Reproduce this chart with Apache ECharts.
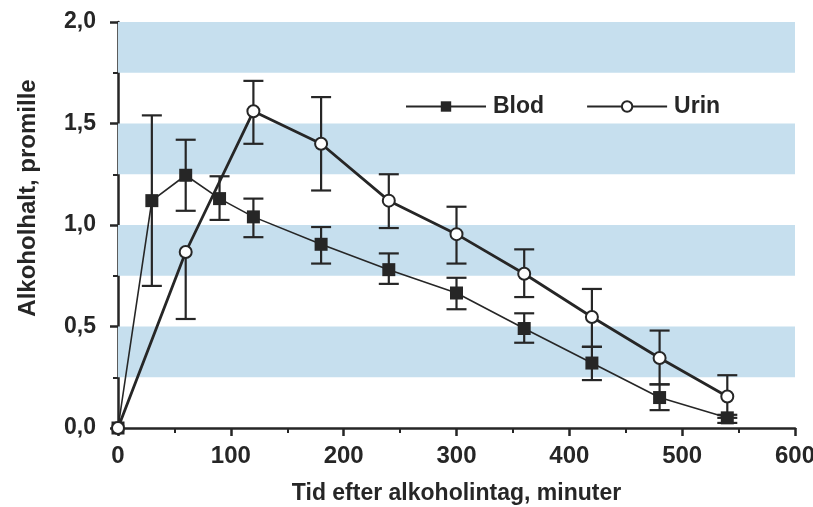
<!DOCTYPE html>
<html>
<head>
<meta charset="utf-8">
<script src="https://cdn.jsdelivr.net/npm/echarts@6/dist/echarts.min.js"></script>
<style>
	html, body { margin: 0; padding: 0; background: #fff; }
	#chart { width: 813px; height: 507px; }
</style>
</head>
<body>
<div id="chart"></div>
<script>
	// tider (minuter)
	var blodTid = [0, 30, 60, 90, 120, 180, 240, 300, 360, 420, 480, 540];
	var blodVarde = [0, 1.12, 1.245, 1.13, 1.04, 0.905, 0.78, 0.665, 0.49, 0.32, 0.15, 0.05];
	var blodLag = [0, 0.70, 1.07, 1.025, 0.94, 0.81, 0.71, 0.585, 0.42, 0.236, 0.088, 0.025];
	var blodHog = [0, 1.54, 1.42, 1.24, 1.13, 0.99, 0.86, 0.74, 0.565, 0.40, 0.215, 0.065];

	var urinTid = [0, 60, 120, 180, 240, 300, 360, 420, 480, 540];
	var urinVarde = [0, 0.867, 1.56, 1.40, 1.12, 0.955, 0.76, 0.547, 0.345, 0.155];
	var urinLag = [0, 0.537, 1.40, 1.17, 0.985, 0.81, 0.645, 0.40, 0.215, 0.05];
	var urinHog = [0, 0.867, 1.71, 1.63, 1.25, 1.09, 0.88, 0.685, 0.48, 0.26];

	// ljusblå band i bakgrunden
	var band = [[0.25, 0.5], [0.75, 1.0], [1.25, 1.5], [1.75, 2.0]];

	var xTicks = [0, 600, 100];
	var yTicks = [0, 2, 0.5];

	var farg = '#262626';
	var font = 'Liberation Sans, Arial, sans-serif';

	function par(tid, v) {
		var ut = [];
		for (var i = 0; i < tid.length; i++) ut.push([tid[i], v[i]]);
		return ut;
	}
	function felData(tid, v, lag, hog) {
		var ut = [];
		for (var i = 0; i < tid.length; i++) {
			if (lag[i] === v[i] && hog[i] === v[i]) continue;
			ut.push([tid[i], v[i], lag[i], hog[i]]);
		}
		return ut;
	}
	function felStaplar(params, api) {
		var x = api.value(0), m = api.value(1), lo = api.value(2), hi = api.value(3);
		var pLo = api.coord([x, lo]), pHi = api.coord([x, hi]);
		var w = 10;
		var st = { stroke: farg, lineWidth: 2.2 };
		var barn = [{ type: 'line', shape: { x1: pLo[0], y1: pLo[1], x2: pHi[0], y2: pHi[1] }, style: st }];
		if (lo !== m) barn.push({ type: 'line', shape: { x1: pLo[0] - w, y1: pLo[1], x2: pLo[0] + w, y2: pLo[1] }, style: st });
		if (hi !== m) barn.push({ type: 'line', shape: { x1: pHi[0] - w, y1: pHi[1], x2: pHi[0] + w, y2: pHi[1] }, style: st });
		return { type: 'group', children: barn };
	}

	var bandData = band.map(function(b) {
		return [{ yAxis: b[0], xAxis: xTicks[0] }, { yAxis: b[1], xAxis: xTicks[1] }];
	});

	var myChart = echarts.init(document.getElementById('chart'), null, { renderer: 'canvas' });
	var option = {
		animation: false,
		backgroundColor: '#fff',
		textStyle: { fontFamily: font },
		grid: { left: 118, right: 18, top: 22, bottom: 79, containLabel: false, outerBoundsMode: 'none' },
		legend: {
			left: 400,
			top: 90,
			itemWidth: 80,
			itemHeight: 13,
			itemGap: 42,
			textStyle: { fontSize: 23, fontWeight: 'bold', color: farg, fontFamily: font, padding: [0, 0, 0, 2] },
			data: ['Blod', 'Urin']
		},
		xAxis: {
			type: 'value',
			min: xTicks[0], max: xTicks[1], interval: xTicks[2],
			name: 'Tid efter alkoholintag, minuter',
			nameLocation: 'middle',
			nameGap: 54,
			nameTextStyle: { fontSize: 23, fontWeight: 'bold', color: farg },
			axisLine: { lineStyle: { color: farg, width: 2.5 } },
			axisTick: { length: 8, lineStyle: { width: 2.5, color: farg } },
			minorTick: { show: true, splitNumber: 2, length: 5, lineStyle: { width: 2, color: farg } },
			axisLabel: { fontSize: 24, fontWeight: 'bold', color: farg, margin: 16 },
			splitLine: { show: false }
		},
		yAxis: {
			type: 'value',
			min: yTicks[0], max: yTicks[1], interval: yTicks[2],
			name: 'Alkoholhalt, promille',
			nameLocation: 'middle',
			nameGap: 78,
			nameTextStyle: { fontSize: 24, fontWeight: 'bold', color: farg, padding: [0, 0, 0, 54] },
			axisLine: { lineStyle: { color: farg, width: 2.5 } },
			axisTick: { length: 8, lineStyle: { width: 2.5, color: farg } },
			minorTick: { show: true, splitNumber: 2, length: 5, lineStyle: { width: 2, color: farg } },
			axisLabel: {
				fontSize: 23, fontWeight: 'bold', color: farg, margin: 22,
				formatter: function(v) { return v.toFixed(1).replace('.', ','); }
			},
			splitLine: { show: false }
		},
		series: [
			{
				name: 'band',
				type: 'line',
				data: [],
				silent: true,
				markArea: {
					silent: true,
					itemStyle: { color: '#c6dfee' },
					data: bandData
				}
			},
			{
				name: 'felBlod',
				type: 'custom',
				renderItem: felStaplar,
				data: felData(blodTid, blodVarde, blodLag, blodHog),
				z: 3,
				silent: true
			},
			{
				name: 'felUrin',
				type: 'custom',
				renderItem: felStaplar,
				data: felData(urinTid, urinVarde, urinLag, urinHog),
				z: 3,
				silent: true
			},
			{
				name: 'Blod',
				type: 'line',
				data: par(blodTid, blodVarde),
				symbol: 'rect',
				symbolSize: 13,
				clip: false,
				z: 5,
				lineStyle: { color: farg, width: 1.6 },
				itemStyle: { color: farg, borderColor: farg, borderWidth: 0 }
			},
			{
				name: 'Urin',
				type: 'line',
				data: par(urinTid, urinVarde),
				symbol: 'circle',
				symbolSize: 12,
				showAllSymbol: true,
				clip: false,
				z: 6,
				lineStyle: { color: farg, width: 2.8 },
				itemStyle: { color: '#fff', borderColor: farg, borderWidth: 2 }
			}
		]
	};
	myChart.setOption(option);

	window.onresize = function() {
		myChart.resize();
	};
</script>
</body>
</html>
